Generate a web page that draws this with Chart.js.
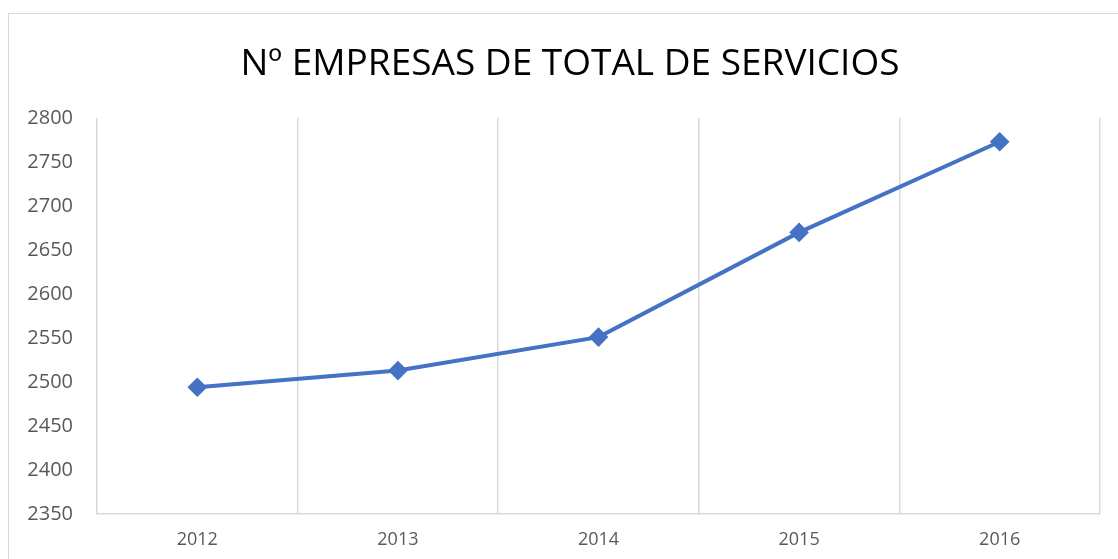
<!DOCTYPE html>
<html>
<head>
<meta charset="utf-8">
<script src="https://cdn.jsdelivr.net/npm/chart.js@4"></script>
<style>
  html, body { margin: 0; padding: 0; background: #fff; }
  #wrap { position: relative; width: 1118px; height: 559px; overflow: hidden; }
  #frame { position: absolute; left: 8px; top: 13px; width: 1130px; height: 600px; border: 1px solid #d9d9d9; box-sizing: border-box; }
  #chart { position: absolute; left: 0; top: 0; }
</style>
</head>
<body>
<div id="wrap">
  <div id="frame"></div>
  <canvas id="chart" width="1118" height="559"></canvas>
</div>
<script>
// Número de empresas del total de servicios, por año
const years = ['2012', '2013', '2014', '2015', '2016'];
const empresas = [2494, 2513, 2551, 2670, 2773];
const yMin = 2350;
const yMax = 2800;
const yStep = 50;

const titleText = 'Nº EMPRESAS DE TOTAL DE SERVICIOS';
const textColor = '#595959';
const gridColor = '#d9d9d9';
const lineColor = '#4472C4';

// the title sits centred on the frame, not on the plot, so it is drawn by hand
const frameTitle = {
  id: 'frameTitle',
  afterDraw(chart) {
    const c = chart.ctx;
    c.save();
    c.font = 'normal 37px "Open Sans"';
    c.fillStyle = '#000';
    c.textAlign = 'center';
    c.textBaseline = 'middle';
    c.fillText(titleText, 570, 64);
    c.restore();
  }
};

const ctx = document.getElementById('chart').getContext('2d');
new Chart(ctx, {
  type: 'line',
  data: {
    labels: years,
    datasets: [{
      data: empresas,
      borderColor: lineColor,
      backgroundColor: lineColor,
      borderWidth: 4,
      pointStyle: 'rectRot',
      pointRadius: 7,
      pointHoverRadius: 7,
      tension: 0
    }]
  },
  options: {
    responsive: false,
    animation: false,
    layout: { padding: { left: 0, right: 18, top: 118, bottom: 0 } },
    plugins: {
      legend: { display: false },
      tooltip: { enabled: false },
      title: { display: false }
    },
    scales: {
      x: {
        offset: true,
        grid: { display: true, offset: true, color: gridColor, lineWidth: 1.5, drawTicks: false },
        border: { display: true, color: gridColor, width: 1.5 },
        ticks: { color: textColor, font: { family: 'Open Sans', size: 18 }, padding: 15, maxRotation: 0 },
        afterFit(scale) { scale.height = 45; }
      },
      y: {
        min: yMin,
        max: yMax,
        grid: { display: false },
        border: { display: false },
        ticks: {
          stepSize: yStep,
          color: textColor,
          font: { family: 'Open Sans', size: 20 },
          padding: 16,
          callback: (v) => String(v)
        },
        afterFit(scale) { scale.width = 97; }
      }
    }
  },
  plugins: [frameTitle]
});
</script>
</body>
</html>
